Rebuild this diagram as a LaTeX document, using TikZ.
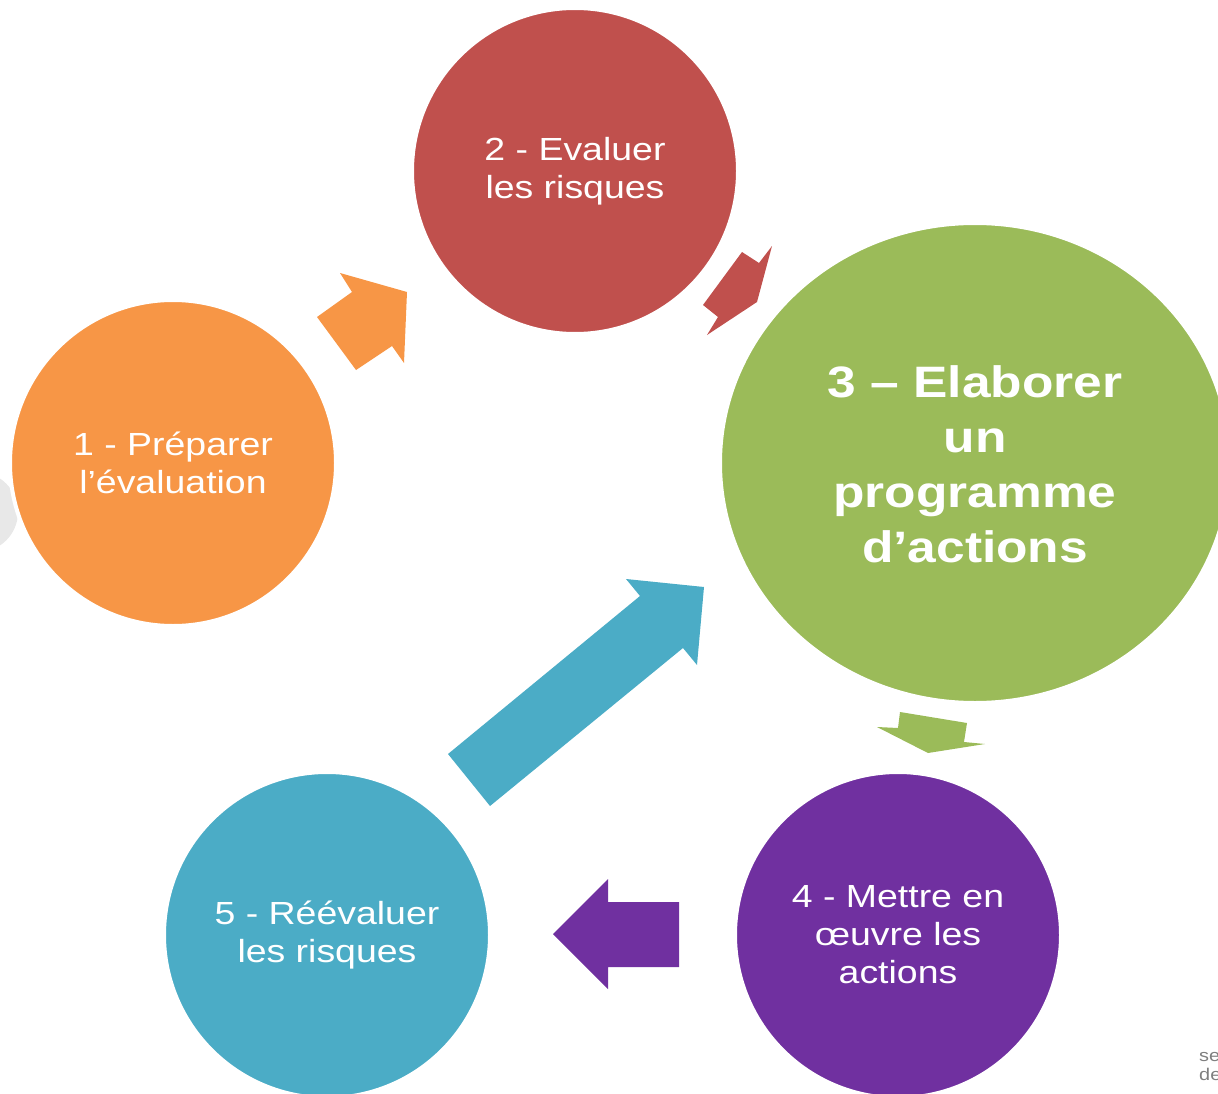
\documentclass[tikz,border=0pt]{standalone}
\usepackage{fontspec}
\setmainfont{Liberation Sans}
\usetikzlibrary{shapes.geometric}
\definecolor{cOrange}{HTML}{F79646}
\definecolor{cRed}{HTML}{C0504D}
\definecolor{cGreen}{HTML}{9BBB59}
\definecolor{cPurple}{HTML}{7030A0}
\definecolor{cBlue}{HTML}{4BACC6}
\definecolor{cShadow}{HTML}{E8E8E8}
\definecolor{cNote}{HTML}{7F7F7F}
\begin{document}
\begin{tikzpicture}[x=1pt,y=-1pt,
  stage/.style={circle, minimum size=326pt, inner sep=0pt, draw=white, line width=4pt},
  bigstage/.style={ellipse, minimum width=510pt, minimum height=480pt, inner sep=0pt, draw=white, line width=4pt},
  lbl/.style={text=white, align=center, xscale=1.17, inner sep=0pt, font=\fontsize{32}{38}\selectfont},
  biglbl/.style={text=white, align=center, xscale=1.17, inner sep=0pt, font=\fontsize{44}{55}\selectfont\bfseries},
  blockarrow/.style={draw=none}
]
\useasboundingbox (0,0) rectangle (1218,1094);
\clip (0,0) rectangle (1218,1094);

% faint shape at left edge
\fill[cShadow] (-22,512) circle (40pt);

% stages
\node[stage, fill=cOrange] (n1) at (173,463) {};
\node[stage, fill=cRed] (n2) at (575,171) {};
\node[bigstage, fill=cGreen] (n3) at (975,463) {};
\node[stage, fill=cPurple] (n4) at (898,935) {};
\node[stage, fill=cBlue] (n5) at (327,935) {};

\node[lbl] (t1) at (n1.center) {1 - Préparer\\l’évaluation};
\node[lbl] (t2) at (n2.center) {2 - Evaluer\\les risques};
\node[biglbl] (t3) at ([yshift=-1pt]n3.center) {3 – Elaborer\\un\\programme\\d’actions};
\node[lbl] (t4) at (n4.center) {4 - Mettre en\\œuvre les\\actions};
\node[lbl] (t5) at (n5.center) {5 - Réévaluer\\les risques};

% block arrows
\fill[cOrange, blockarrow] (317,317) -- (352,292) -- (340,273) -- (407,292) -- (404,363) -- (392,346) -- (356,370) -- cycle;
\fill[cRed, blockarrow] (742,252) -- (759,263) -- (772,246) -- (757,302) -- (707,335) -- (718,317) -- (703,305) -- cycle;
\fill[cGreen, blockarrow] (900,712) -- (967,723) -- (964,742) -- (985,744) -- (928,753) -- (877,727) -- (898,728) -- cycle;
\fill[cPurple, blockarrow] (679,902) -- (608,902) -- (608,879) -- (553,934) -- (608,989) -- (608,967) -- (679,967) -- cycle;
\fill[cBlue, blockarrow] (448,754) -- (640,596) -- (626,579) -- (704,587) -- (697,665) -- (683,648) -- (490,806) -- cycle;

% clipped note at bottom right
\node[anchor=north west, text=cNote, align=left, inner sep=0pt, xscale=1.17, font=\fontsize{17}{19.5}\selectfont] (note) at (1199,1052) {se\\de};
\end{tikzpicture}
\end{document}
